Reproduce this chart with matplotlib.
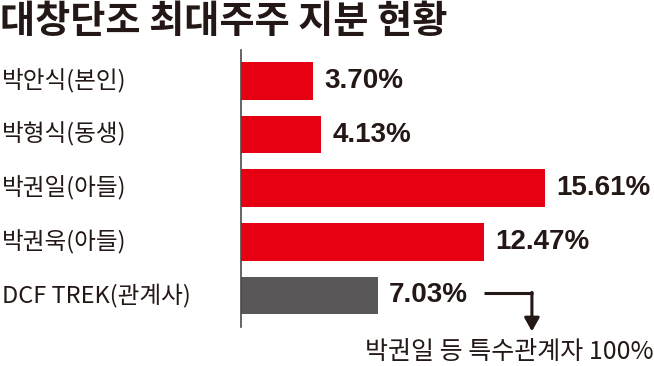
import matplotlib
matplotlib.use("Agg")
import matplotlib.pyplot as plt
from matplotlib.transforms import blended_transform_factory, offset_copy

# data
holders = ["박안식(본인)", "박형식(동생)", "박권일(아들)", "박권욱(아들)", "DCF TREK(관계사)"]
shares = [3.70, 4.13, 15.61, 12.47, 7.03]
value_labels = ["3.70%", "4.13%", "15.61%", "12.47%", "7.03%"]
title = "대창단조 최대주주 지분 현황"
note = "박권일 등 특수관계자 100%"

RED = "#e60012"
GRAY = "#595757"
INK = "#231815"
KR = ["Noto Sans CJK KR", "DejaVu Sans"]
NUM = ["Liberation Sans", "DejaVu Sans"]

W, H = 654, 366
fig = plt.figure(figsize=(W / 100, H / 100), dpi=100)
fig.patch.set_facecolor("white")

left_px, top_px, bottom_px = 241, 50, 327
scale = 304 / max(shares)  # px per percent
ax = fig.add_axes([left_px / W, 1 - bottom_px / H, (W - left_px) / W, (bottom_px - top_px) / H])
ax.set_xlim(0, (W - left_px) / scale)
ax.set_ylim(4.59, -0.58)

colors = [RED] * 4 + [GRAY]
ypos = list(range(len(holders)))
ax.barh(ypos, shares, height=0.7, color=colors, edgecolor="none")

for sp in ["top", "right", "bottom"]:
    ax.spines[sp].set_visible(False)
ax.spines["left"].set_color("#4a4a4a")
ax.spines["left"].set_linewidth(1.2)
ax.set_xticks([])
ax.set_yticks([])
ax.patch.set_alpha(0)

lab_tr = blended_transform_factory(fig.transFigure, ax.transData)
for y, name in zip(ypos, holders):
    ax.text(0.003, y, name, transform=lab_tr, ha="left", va="center",
            fontsize=17, family=KR, color=INK)

for y, v, s in zip(ypos, shares, value_labels):
    ax.text(v, y, s, transform=offset_copy(ax.transData, fig, x=11, y=0, units="dots"),
            ha="left", va="center", fontsize=20, fontweight="bold", family=NUM, color=INK)

# bent arrow from the last label
last = len(shares) - 1
row = 53.6  # px per row
x0 = shares[last]
ax.plot([x0 + 106 / scale, x0 + 155 / scale], [last - 2 / row, last - 2 / row],
        color=INK, lw=2.2, solid_capstyle="butt", clip_on=False)
ax.annotate("", xy=(x0 + 154 / scale, last + 36 / row), xytext=(x0 + 154 / scale, last - 3 / row),
            arrowprops=dict(arrowstyle="-|>,head_length=0.8,head_width=0.45", color=INK, lw=2.2,
                            shrinkA=0, shrinkB=0), annotation_clip=False)

fig.text(0.0, 1 - 21 / H, title, ha="left", va="center", fontsize=27.5,
         fontweight="black", family=KR, color=INK)
fig.text(1.0, 1 - 352 / H, note, ha="right", va="center", fontsize=18, family=KR, color=INK)

fig.savefig("out.png", dpi=100, facecolor="white")
